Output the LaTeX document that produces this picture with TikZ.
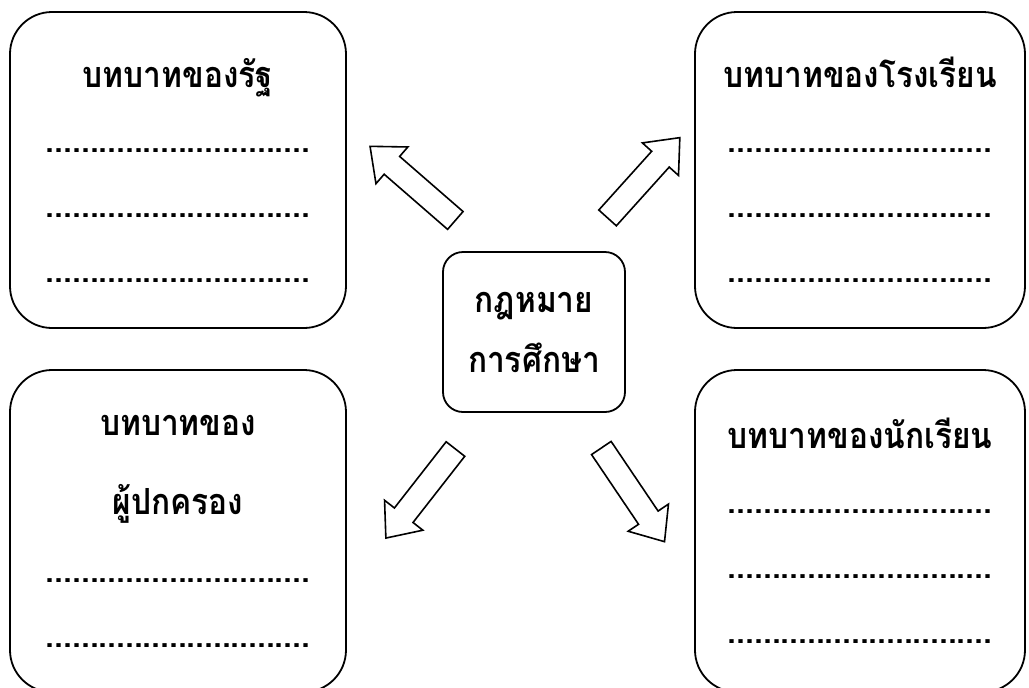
\documentclass[tikz,border=0pt]{standalone}
\usepackage{fontspec}
\newfontfamily\thaifont[Script=Thai, FakeStretch=0.88]{Loma}
\usetikzlibrary{shapes.arrows}
\newcommand{\dotrow}{..............................}

\begin{document}
\begin{tikzpicture}
\tikzstyle{rolebox} 	= [draw, rectangle, rounded corners = 21pt, line width = 0.9pt, minimum width = 168pt, minimum height = 158pt, align = center, font = \thaifont\bfseries\fontsize{18pt}{32.5pt}\selectfont] % define role box
\tikzstyle{lawbox} 	= [draw, rectangle, rounded corners = 10pt, line width = 0.9pt, minimum width = 91pt, minimum height = 80pt, align = center, font = \thaifont\bfseries\fontsize{18pt}{30pt}\selectfont] % define law box
\tikzstyle{fatarrow} 	= [draw, single arrow, line width = 0.8pt, inner xsep = 0pt, inner ysep = 5.5pt, minimum width = 23.5pt, minimum height = 56.5pt, single arrow head extend = 6.25pt, single arrow tip angle = 80] % define hollow arrow

\useasboundingbox (-267pt,-177.5pt) rectangle (247.5pt,166pt);

% law in the middle, four roles around it
\node(law)[lawbox] at (0,0){กฎหมาย\\การศึกษา};
\node(state)[rolebox] at (-178pt,81pt){บทบาทของรัฐ\\\dotrow\\\dotrow\\\dotrow};
\node(school)[rolebox, minimum width = 165pt, right of = state, node distance = 341pt]{บทบาทของโรงเรียน\\\dotrow\\\dotrow\\\dotrow};
\node(parent)[rolebox, minimum height = 161pt, below of = state, node distance = 180.5pt]{บทบาทของ\\[7pt]ผู้ปกครอง\\[1.5pt]\dotrow\\\dotrow};
\node(student)[rolebox, minimum width = 165pt, minimum height = 161pt, below of = school, node distance = 180.5pt]{บทบาทของนักเรียน\\\dotrow\\\dotrow\\\dotrow};

% hollow arrows pointing out of the law box
\node(toState)[fatarrow, rotate = 139] at (-58pt,72pt){};
\node(toSchool)[fatarrow, rotate = 48, minimum height = 54pt] at (52.5pt,74.5pt){};
\node(toParent)[fatarrow, rotate = 232] at (-54.5pt,-78pt){};
\node(toStudent)[fatarrow, rotate = 304] at (47.5pt,-78.5pt){};
\end{tikzpicture}
\end{document}
